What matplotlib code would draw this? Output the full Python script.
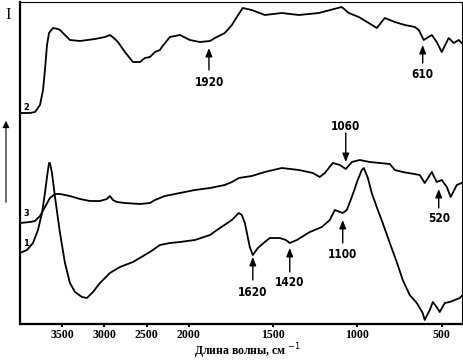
import numpy as np
import matplotlib
matplotlib.use("Agg")
import matplotlib.pyplot as plt

# ---- data (wavenumber, cm^-1 ; relative intensity, arbitrary units) ----
wn2 = [4000, 3882, 3822, 3763, 3727, 3704, 3680, 3656, 3609, 3550, 3526, 3467, 3408, 3289,
       3111, 2993, 2934, 2887, 2839, 2756, 2661, 2578, 2520, 2460, 2400, 2341, 2318, 2223,
       2104, 1993, 1934, 1874, 1845, 1786, 1744, 1726, 1680, 1626, 1549, 1448, 1347, 1229,
       1093, 1051, 992, 933, 885, 838, 778, 719, 660, 636, 607, 559, 530, 500, 459, 429,
       399, 382]
val2 = [211, 211, 212, 219, 234, 254, 279, 291, 296, 295, 294, 289, 284, 283,
        285, 287, 289, 286, 282, 272, 262, 262, 266, 267, 272, 274, 277, 287,
        289, 284, 282, 283, 286, 291, 299, 304, 316, 314, 309, 311, 309, 311,
        317, 311, 307, 301, 296, 306, 302, 299, 297, 294, 284, 289, 282, 272, 286, 281,
        284, 281]

wn3 = [4000, 3882, 3822, 3763, 3704, 3645, 3585, 3526, 3467, 3408, 3289, 3171, 3052, 2970,
       2934, 2898, 2851, 2756, 2578, 2460, 2400, 2282, 2104, 1963, 1874, 1786, 1744, 1703,
       1626, 1549, 1448, 1347, 1264, 1223, 1193, 1146, 1104, 1069, 1033, 986, 927, 867,
       808, 778, 731, 630, 601, 559, 530, 500, 470, 447, 411, 382]
val3 = [101, 102, 103, 108, 117, 126, 130, 130, 129, 128, 125, 123, 123, 125,
        128, 124, 122, 121, 120, 121, 124, 128, 131, 134, 136, 139, 142, 146,
        148, 152, 156, 154, 151, 147, 151, 161, 159, 155, 162, 164, 162, 161,
        160, 154, 152, 149, 141, 152, 142, 144, 137, 127, 139, 141]

wn1 = [4000, 3917, 3846, 3787, 3739, 3704, 3680, 3656, 3645, 3621, 3585, 3526, 3467, 3408,
       3348, 3266, 3206, 3135, 3052, 2934, 2815, 2661, 2460, 2341, 2223, 2104, 1963, 1874,
       1815, 1744, 1703, 1685, 1667, 1638, 1620, 1590, 1549, 1519, 1460, 1424, 1401, 1359,
       1282, 1211, 1164, 1134, 1104, 1087, 1063, 1033, 998, 974, 962, 938, 915, 879, 850,
       808, 767, 731, 690, 648, 613, 601, 571, 553, 530, 512, 482, 453, 423, 393, 382]
val1 = [71, 74, 81, 94, 111, 131, 147, 161, 161, 151, 127, 91, 61, 41,
        32, 27, 26, 32, 41, 51, 57, 62, 72, 79, 81, 82, 84, 89,
        96, 104, 111, 109, 101, 77, 69, 76, 82, 86, 86, 84, 81, 84,
        92, 97, 104, 114, 112, 111, 114, 127, 144, 154, 156, 146, 131, 114, 101,
        81, 62, 44, 29, 21, 11, 4, 14, 22, 17, 12, 21, 22, 24, 26, 28]

xticks = [3500, 3000, 2500, 2000, 1500, 1000, 500]
xticklabels = ["3500", "3000", "2500", "2000", "1500", "1000", "500"]

# annotations: label, wavenumber, arrow tip, arrow tail, text y
ann_labels = ["1920", "610", "1060", "520", "1620", "1420", "1100"]
ann_wn = [1880, 613, 1069, 518, 1620, 1401, 1087]
ann_tip = [276, 279, 162, 135, 67, 76, 104]
ann_tail = [254, 261, 191, 116, 44, 52, 81]
ann_text = [241, 249, 198, 105, 31, 42, 69]

curve_labels = ["2", "3", "1"]
curve_label_y = [217, 111, 81]

# ---- piecewise wavenumber scale (scale change at 2000 cm^-1) ----
def fwd(w):
    w = np.asarray(w, dtype=float)
    return np.where(w <= 2000, w, 2000 + (w - 2000) / 2.0)

def inv(u):
    u = np.asarray(u, dtype=float)
    return np.where(u <= 2000, u, 2000 + (u - 2000) * 2.0)

fig = plt.figure(figsize=(4.64, 3.6), dpi=100)
ax = fig.add_axes([20 / 464, 36 / 360, 442 / 464, 322 / 360])
ax.set_xscale("function", functions=(fwd, inv))

for wn, v in [(wn2, val2), (wn3, val3), (wn1, val1)]:
    ax.plot(wn, v, color="black", lw=1.3, solid_joinstyle="round")

ax.set_xlim(4000, 380)
ax.set_ylim(0, 322)
ax.set_yticks([])
ax.set_xticks(xticks)
ax.set_xticklabels(xticklabels, family="Liberation Serif", fontweight="bold", fontsize=8.5)
ax.xaxis.set_minor_locator(matplotlib.ticker.NullLocator())
ax.tick_params(axis="x", direction="out", length=2, width=1.5, pad=1.5)

for s in ["left", "bottom"]:
    ax.spines[s].set_linewidth(1.6)
for s in ["top", "right"]:
    ax.spines[s].set_linewidth(0.8)

for lab, w, tip, tail, ty in zip(ann_labels, ann_wn, ann_tip, ann_tail, ann_text):
    ax.annotate("", xy=(w, tip), xytext=(w, tail),
                arrowprops=dict(arrowstyle="-|>,head_length=0.5,head_width=0.2",
                                color="black", lw=1.0, shrinkA=0, shrinkB=0))
    ax.text(w, ty, lab, ha="center", va="center", family="DejaVu Sans",
            fontstretch="condensed", fontweight="bold", fontsize=8.5)

for lab, y in zip(curve_labels, curve_label_y):
    ax.text(3930, y, lab, ha="center", va="center", family="DejaVu Sans",
            fontweight="bold", fontsize=6)

fig.text(248 / 464, 1 - 351 / 360, "Длина волны, см $^{\u22121}$",
         family="Liberation Serif", fontweight="bold", fontsize=8.5,
         ha="center", va="center")

fig.text(8 / 464, 1 - 15 / 360, "I", family="Liberation Serif", fontsize=12,
         ha="center", va="center")
fig.patches.append(matplotlib.patches.FancyArrowPatch(
    (6 / 464, 1 - 205 / 360), (6 / 464, 1 - 118 / 360), transform=fig.transFigure,
    arrowstyle="-|>,head_length=4,head_width=2", color="black", lw=0.8))

fig.savefig("out.png", dpi=100)
